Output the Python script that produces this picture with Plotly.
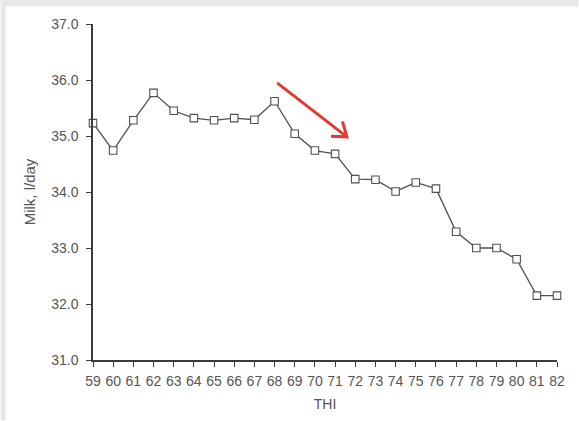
import math
import plotly.graph_objects as go

# Temperature-humidity index and mean daily milk yield
thi = list(range(59, 83))
milk = [35.23, 34.74, 35.28, 35.77, 35.45, 35.32, 35.28, 35.32, 35.29, 35.62,
        35.04, 34.74, 34.68, 34.23, 34.22, 34.01, 34.17, 34.06, 33.29, 33.00,
        33.00, 32.80, 32.15, 32.15]
y_ticks = [31, 32, 33, 34, 35, 36, 37]
y_tick_text = ["31.0", "32.0", "33.0", "34.0", "35.0", "36.0", "37.0"]

W, H = 579, 421
L, R, T, B = 92.5, 21.5, 24, 60.5
PW, PH = W - L - R, H - T - B
X0, X1 = 59, 82
Y0, Y1 = 31, 37


def px_x(px):
    return X0 + (px - L) / PW * (X1 - X0)


def px_y(py):
    return Y1 - (py - T) / PH * (Y1 - Y0)


def paper_x(px):
    return (px - L) / PW


def paper_y(py):
    return 1 - (py - T) / PH


fig = go.Figure()
fig.add_trace(go.Scatter(
    x=thi, y=milk, mode="lines+markers",
    line=dict(color="#505050", width=1.3),
    marker=dict(symbol="square", size=7.5, color="white",
                line=dict(color="#505050", width=1.1)),
    cliponaxis=False, showlegend=False, hoverinfo="x+y",
))

# light grey frame strips along the top and left edges
grey = "#e6e7e9"
shapes = [
    dict(type="rect", xref="paper", yref="paper", layer="below",
         x0=paper_x(0), x1=paper_x(W), y0=paper_y(6.5), y1=paper_y(0),
         fillcolor=grey, line=dict(width=0)),
    dict(type="rect", xref="paper", yref="paper", layer="below",
         x0=paper_x(0), x1=paper_x(5), y0=paper_y(H), y1=paper_y(0),
         fillcolor=grey, line=dict(width=0)),
]

# red arrow showing the downward trend
red = "#e23a2e"
tail = (277, 83)
tip = (347, 137)
ang = math.atan2(tip[1] - tail[1], tip[0] - tail[0]) + math.pi
wing_len, spread = 16, math.radians(36)
w1 = (tip[0] + wing_len * math.cos(ang - spread), tip[1] + wing_len * math.sin(ang - spread))
w2 = (tip[0] + wing_len * math.cos(ang + spread), tip[1] + wing_len * math.sin(ang + spread))
shapes.append(dict(type="line", xref="x", yref="y",
                   x0=px_x(tail[0]), y0=px_y(tail[1]), x1=px_x(tip[0]), y1=px_y(tip[1]),
                   line=dict(color=red, width=3)))
shapes.append(dict(type="path", xref="x", yref="y",
                   path=f"M{px_x(w1[0])},{px_y(w1[1])} L{px_x(tip[0])},{px_y(tip[1])} "
                        f"L{px_x(w2[0])},{px_y(w2[1])}",
                   line=dict(color=red, width=3)))

fig.update_layout(
    width=W, height=H,
    margin=dict(l=L, r=R, t=T, b=B, pad=0),
    paper_bgcolor="white", plot_bgcolor="white",
    shapes=shapes,
    xaxis=dict(
        range=[X0, X1], tickmode="array", tickvals=thi,
        ticktext=[str(v) for v in thi],
        showgrid=False, zeroline=False,
        showline=True, linecolor="#3a3a3a", linewidth=1.5,
        ticks="outside", ticklen=5, tickwidth=1.2, tickcolor="#3a3a3a",
        ticklabelstandoff=2,
        tickfont=dict(family="Liberation Sans Narrow, Arial Narrow, sans-serif", size=14, color="#555"),
        title=dict(text="THI", standoff=12,
                   font=dict(family="Liberation Sans, Arial, sans-serif", size=14, color="#555")),
    ),
    yaxis=dict(
        range=[Y0, Y1], tickmode="array", tickvals=y_ticks, ticktext=y_tick_text,
        showgrid=False, zeroline=False,
        showline=True, linecolor="#3a3a3a", linewidth=1.5,
        ticks="outside", ticklen=5, tickwidth=1.2, tickcolor="#3a3a3a",
        ticklabelstandoff=5,
        tickfont=dict(family="Liberation Sans, Arial, sans-serif", size=14, color="#555"),
        title=dict(text="Milk, l/day", standoff=12,
                   font=dict(family="Liberation Sans, Arial, sans-serif", size=15, color="#555")),
    ),
)

fig.write_html("out.html")
